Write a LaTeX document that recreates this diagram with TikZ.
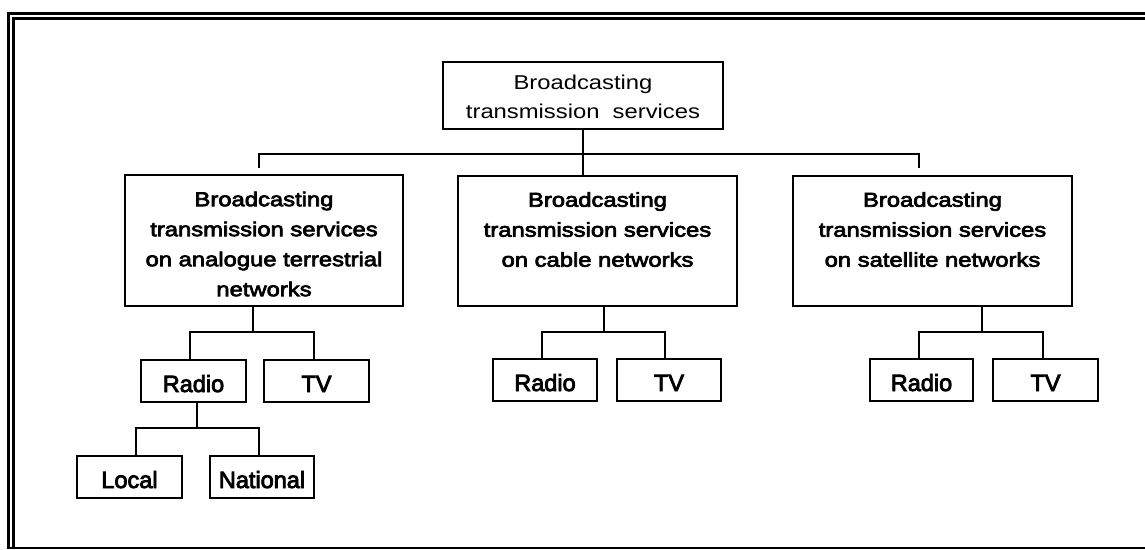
\documentclass[tikz,border=0pt]{standalone}
\usepackage{fontspec}
\setmainfont{Liberation Sans}
\newfontfamily\heavyfont{Liberation Sans}[FakeBold=3.5]
\newfontfamily\widefont{Liberation Sans}[FakeBold=3.5,FakeStretch=1.19]
\newfontfamily\widethin{Liberation Sans}[FakeStretch=1.19]
\begin{document}
\begin{tikzpicture}[x=1pt,y=-1pt,
  box/.style={draw=black,line width=2pt,rectangle,inner sep=0pt,outer sep=0pt},
  leaf/.style={box,minimum width=105pt,minimum height=42pt,text height=22pt,text depth=0pt,
     font=\heavyfont\fontsize{23.5}{30}\selectfont},
  bigtxt/.style={anchor=north,inner sep=0pt,align=center,font=\widefont\fontsize{20}{30}\selectfont},
  conn/.style={line width=2pt},
  thinconn/.style={line width=1.5pt}]
\useasboundingbox (0,0) rectangle (1145,549);
% frame
\draw[line width=3pt] (1146,13.5) -- (8.5,13.5) -- (8.5,549);
\draw[line width=3pt] (1146,18.5) -- (13.5,18.5) -- (13.5,547);
\draw[line width=2pt] (8.5,547.5) -- (1146,547.5);
% boxes
\node[box,minimum width=280pt,minimum height=67pt] (top) at (583,95.5) {};
\node[anchor=north,inner sep=0pt,align=center,font=\widethin\fontsize{20}{28.5}\selectfont] (topT) at ([yshift=-13pt]top.north) {Broadcasting\\transmission\ \ services};
\node[box,minimum width=278pt,minimum height=131pt] (left) at (264,240.5) {};
\node[bigtxt] (leftT) at (264,191.5) {Broadcasting\\transmission services\\on analogue terrestrial\\networks};
\node[box,minimum width=279pt,minimum height=130pt] (mid) at (597.5,241) {};
\node[bigtxt] (midT) at (597.5,192) {Broadcasting\\transmission services\\on cable networks};
\node[box,minimum width=279pt,minimum height=130pt] (right) at (932.5,241) {};
\node[bigtxt] (rightT) at (932.5,192) {Broadcasting\\transmission services\\on satellite networks};
% leaves
\node[leaf] (lradio) at (193.5,381) {Radio};
\node[leaf] (ltv) at (316.5,381) {TV};
\node[leaf] (local) at (129.5,477) {Local};
\node[leaf,minimum width=104pt] (national) at (262,477) {National};
\node[leaf,minimum width=104pt] (mradio) at (545,380) {Radio};
\node[leaf,minimum width=104pt] (mtv) at (669,380) {TV};
\node[leaf,minimum width=103pt] (rradio) at (921.5,380) {Radio};
\node[leaf] (rtv) at (1045.5,380) {TV};
% top level connectors
\coordinate (jM) at (583,154);
\coordinate (sL) at (259,168);
\coordinate (sR) at (919,168);
\draw[thinconn] (top.south) -- (top.south |- mid.north);
\draw[thinconn] (sL) |- (jM) -| (sR);
% left subtree
\coordinate (fL) at (253,332);
\draw[conn] (left.south -| fL) -- (fL);
\draw[conn] ([xshift=-3.5pt]lradio.north) |- (fL) -| ([xshift=-2.5pt]ltv.north);
\coordinate (fR) at (197,428);
\draw[conn] (lradio.south -| fR) -- (fR);
\draw[conn] ([xshift=6.5pt]local.north) |- (fR) -| ([xshift=-3pt]national.north);
% middle subtree
\coordinate (fM) at (604,332);
\draw[conn] (mid.south -| fM) -- (fM);
\draw[conn] ([xshift=-3pt]mradio.north) |- (fM) -| ([xshift=-4pt]mtv.north);
% right subtree
\coordinate (fS) at (982,332);
\draw[conn] (right.south -| fS) -- (fS);
\draw[conn] ([xshift=-2.5pt]rradio.north) |- (fS) -| ([xshift=-2.5pt]rtv.north);
\end{tikzpicture}
\end{document}
